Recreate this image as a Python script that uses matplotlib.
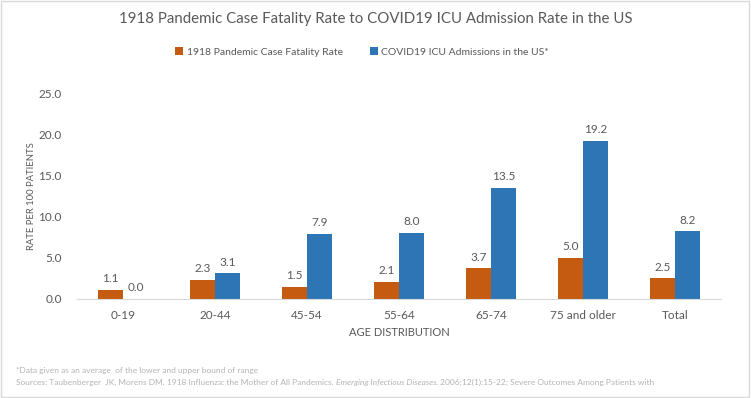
import numpy as np
import matplotlib
matplotlib.use("Agg")
import matplotlib.pyplot as plt
from matplotlib.patches import Rectangle

plt.rcParams["font.family"] = ["Lato", "DejaVu Sans"]

categories = ["0-19", "20-44", "45-54", "55-64", "65-74", "75 and older", "Total"]
fatality_1918 = [1.1, 2.3, 1.5, 2.1, 3.7, 5.0, 2.5]
covid_icu = [0.0, 3.1, 7.9, 8.0, 13.5, 19.2, 8.2]
yticks = [0, 5, 10, 15, 20, 25]

ORANGE = "#C55A11"
BLUE = "#2E75B6"
GREY = "#595959"

fig = plt.figure(figsize=(7.51, 3.98), dpi=100)
fig.patches.append(Rectangle((0.001, 0.002), 0.997, 0.995, transform=fig.transFigure,
                             fill=False, edgecolor="#D9D9D9", linewidth=1))
ax = fig.add_axes([0.1025, 0.249, 0.8575, 0.517])

x = np.arange(len(categories))
w = 0.27
b1 = ax.bar(x - w / 2, fatality_1918, w, color=ORANGE, label="1918 Pandemic Case Fatality Rate")
b2 = ax.bar(x + w / 2, covid_icu, w, color=BLUE, label="COVID19 ICU Admissions in the US*")

for bars, vals in ((b1, fatality_1918), (b2, covid_icu)):
    for r, v in zip(bars, vals):
        ax.annotate(f"{v:.1f}", (r.get_x() + r.get_width() / 2, v), xytext=(0, 4),
                    textcoords="offset points", ha="center", va="bottom",
                    fontsize=8.5, color=GREY)

ax.set_xlim(-0.5, len(categories) - 0.5)
ax.set_ylim(0, 25)
ax.set_yticks(yticks)
ax.set_yticklabels([f"{t:.1f}" for t in yticks])
ax.set_xticks(x)
ax.set_xticklabels(categories)
ax.tick_params(length=0, labelsize=8.5, labelcolor=GREY)
ax.tick_params(axis="x", pad=8)
ax.tick_params(axis="y", pad=11)
for s in ("top", "right", "left"):
    ax.spines[s].set_visible(False)
ax.spines["bottom"].set_color("#D9D9D9")

ax.set_xlabel("AGE DISTRIBUTION", fontsize=8, color=GREY, labelpad=4)
ax.set_ylabel("RATE PER 100 PATIENTS", fontsize=6.8, color=GREY, labelpad=2)

fig.text(0.5, 0.953, "1918 Pandemic Case Fatality Rate to COVID19 ICU Admission Rate in the US",
         ha="center", va="center", fontsize=10.8, color=GREY)

fig.legend(handles=[b1, b2], loc="center", bbox_to_anchor=(0.482, 0.869), ncol=2,
           frameon=False, fontsize=7.5, handlelength=0.8, handleheight=0.8,
           handletextpad=0.3, columnspacing=2.6, labelcolor=GREY)

# footnotes
FOOT = "#B4B4B4"
fig.text(0.021, 0.068, "*Data given as an average  of the lower and upper bound of range",
         fontsize=6, color=FOOT, va="center")
t1 = fig.text(0.021, 0.04, "Sources: Taubenberger  JK, Morens DM. 1918 Influenza: the Mother of All Pandemics. ",
              fontsize=6, color=FOOT, va="center")
t2 = ax.annotate("Emerging Infectious Diseases", xy=(1, 0), xycoords=t1, va="bottom",
                 fontsize=6, color=FOOT, style="italic", annotation_clip=False)
ax.annotate(". 2006;12(1):15-22; Severe Outcomes Among Patients with", xy=(1, 0), xycoords=t2,
            va="bottom", fontsize=6, color=FOOT, annotation_clip=False)

fig.savefig("out.png", dpi=100)
